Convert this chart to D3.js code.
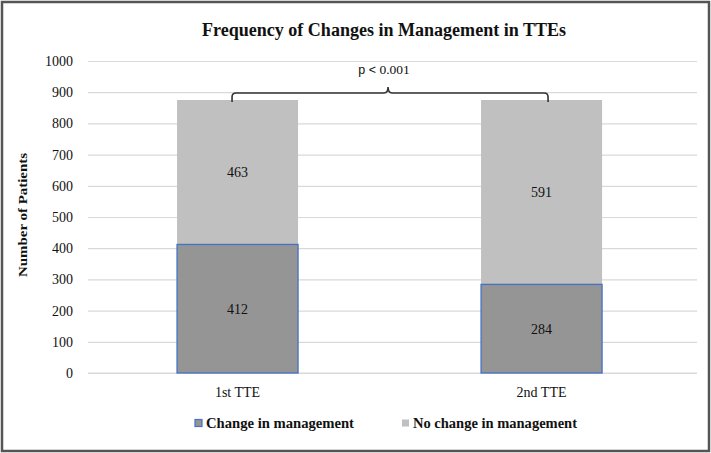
<!DOCTYPE html>
<html><head><meta charset="utf-8">
<script src="https://cdn.jsdelivr.net/npm/d3@7"></script>
<style>
html,body{margin:0;padding:0;background:#fff;}
svg{display:block;}
svg text{font-family:"Liberation Serif","Times New Roman",serif;}
svg text.sans{font-family:"Liberation Sans",Arial,sans-serif;}
</style></head>
<body>
<svg id="chart" width="711" height="453"></svg>
<script>
const categories = ["1st TTE", "2nd TTE"];
const seriesNames = ["Change in management", "No change in management"];
const changeValues = [412, 284];
const noChangeValues = [463, 591];
const yTicks = [0, 100, 200, 300, 400, 500, 600, 700, 800, 900, 1000];
const titleText = "Frequency of Changes in Management in TTEs";
const yLabel = "Number of Patients";
const pPrefix = "p < ";
const pValue = "0.001";

(function () {
const svg = d3.select("#chart");
const W = 711, H = 453;
const plot = {l: 88, r: 697, t: 61, b: 373};

svg.append("rect").attr("x", 2).attr("y", 2).attr("width", W - 4).attr("height", H - 4)
  .attr("fill", "#fff").attr("stroke", "#555").attr("stroke-width", 2.5);

const x = d3.scaleBand().domain(categories).range([plot.l, plot.r])
  .paddingInner(0.602).paddingOuter(0.3026).align(0.484);
const y = d3.scaleLinear().domain([0, 1000]).range([plot.b, plot.t]);

const yAxis = d3.axisLeft(y).tickValues(yTicks).tickSize(-(plot.r - plot.l)).tickPadding(15).tickFormat(d3.format("d"));
const gy = svg.append("g").attr("transform", `translate(${plot.l},0)`).call(yAxis);
gy.select(".domain").remove();
gy.selectAll(".tick line").attr("stroke", "#d9d9d9").attr("stroke-width", 1.2);
gy.selectAll(".tick text").attr("font-size", 14).attr("fill", "#111");

const xAxis = d3.axisBottom(x).tickSize(0).tickPadding(14);
const gx = svg.append("g").attr("transform", `translate(0,${plot.b})`).call(xAxis);
gx.select(".domain").attr("stroke", "#d9d9d9").attr("stroke-width", 1.2)
  .attr("d", `M${plot.l},0H${plot.r}`);
gx.selectAll(".tick text").attr("font-size", 14).attr("fill", "#111");

const data = categories.map((c, i) => ({cat: c, a: changeValues[i], b: noChangeValues[i]}));
const colors = ["#959595", "#c0c0c0"];

const bw = x.bandwidth();
svg.selectAll(".segB").data(data).enter().append("rect")
  .attr("x", d => x(d.cat)).attr("width", bw)
  .attr("y", d => y(d.a + d.b)).attr("height", d => y(d.a) - y(d.a + d.b))
  .attr("fill", colors[1]);
svg.selectAll(".segA").data(data).enter().append("rect")
  .attr("x", d => x(d.cat)).attr("width", bw)
  .attr("y", d => y(d.a)).attr("height", d => y(0) - y(d.a))
  .attr("fill", colors[0]).attr("stroke", "#4472c4").attr("stroke-width", 1.3);

const lab = svg.append("g").attr("font-size", 14).attr("fill", "#111").attr("text-anchor", "middle");
data.forEach(d => {
  const cx = x(d.cat) + bw / 2;
  lab.append("text").attr("x", cx).attr("y", y(d.a / 2)).attr("dy", "0.35em").text(d.a);
  lab.append("text").attr("x", cx).attr("y", y(d.a + d.b / 2)).attr("dy", "0.35em").text(d.b);
});

svg.append("text").attr("x", 384).attr("y", 36).attr("text-anchor", "middle")
  .attr("font-size", 18).attr("font-weight", "bold").attr("fill", "#111")
  .attr("textLength", 364).attr("lengthAdjust", "spacingAndGlyphs").text(titleText);

svg.append("text").attr("transform", `translate(27,215) rotate(-90)`)
  .attr("text-anchor", "middle").attr("font-size", 13.5).attr("font-weight", "bold").attr("fill", "#111")
  .attr("textLength", 124).attr("lengthAdjust", "spacingAndGlyphs")
  .text(yLabel);

const maxTotal = d3.max(data, d => d.a + d.b);
const x1 = x(categories[0]) + bw / 2 - 5.5;
const x2 = x(categories[1]) + bw / 2 + 6.5;
const yb = y(maxTotal) + 2, yh = y(maxTotal) - 7, ytip = y(maxTotal) - 13;
const xm = (x1 + x2) / 2 - 2;
const r = 4;
svg.append("path")
  .attr("d", `M${x1},${yb} L${x1},${yh + r} Q${x1},${yh} ${x1 + r},${yh} L${xm - r},${yh} Q${xm},${yh} ${xm},${ytip} Q${xm},${yh} ${xm + r},${yh} L${x2 - r},${yh} Q${x2},${yh} ${x2},${yh + r} L${x2},${yb}`)
  .attr("fill", "none").attr("stroke", "#333").attr("stroke-width", 1.6);
const pt = svg.append("text").attr("x", 384).attr("y", 74).attr("text-anchor", "middle")
  .attr("font-size", 13.5).attr("fill", "#111");
pt.append("tspan").attr("class", "sans").attr("font-size", 12.5).style("font-family", "Liberation Sans, Arial, sans-serif").text(pPrefix);
pt.append("tspan").text(pValue);

const legend = [{name: seriesNames[0], x: 195, fill: colors[0], stroke: "#4472c4", len: 148},
                {name: seriesNames[1], x: 402, fill: colors[1], stroke: "none", len: 164}];
legend.forEach(l => {
  svg.append("rect").attr("x", l.x).attr("y", 419.5).attr("width", 7).attr("height", 7)
    .attr("fill", l.fill).attr("stroke", l.stroke).attr("stroke-width", 1.2);
  svg.append("text").attr("x", l.x + 11).attr("y", 428).attr("font-size", 14.5).attr("font-weight", "bold")
    .attr("fill", "#111").attr("textLength", l.len).attr("lengthAdjust", "spacingAndGlyphs").text(l.name);
});
})();
</script>
</body></html>
